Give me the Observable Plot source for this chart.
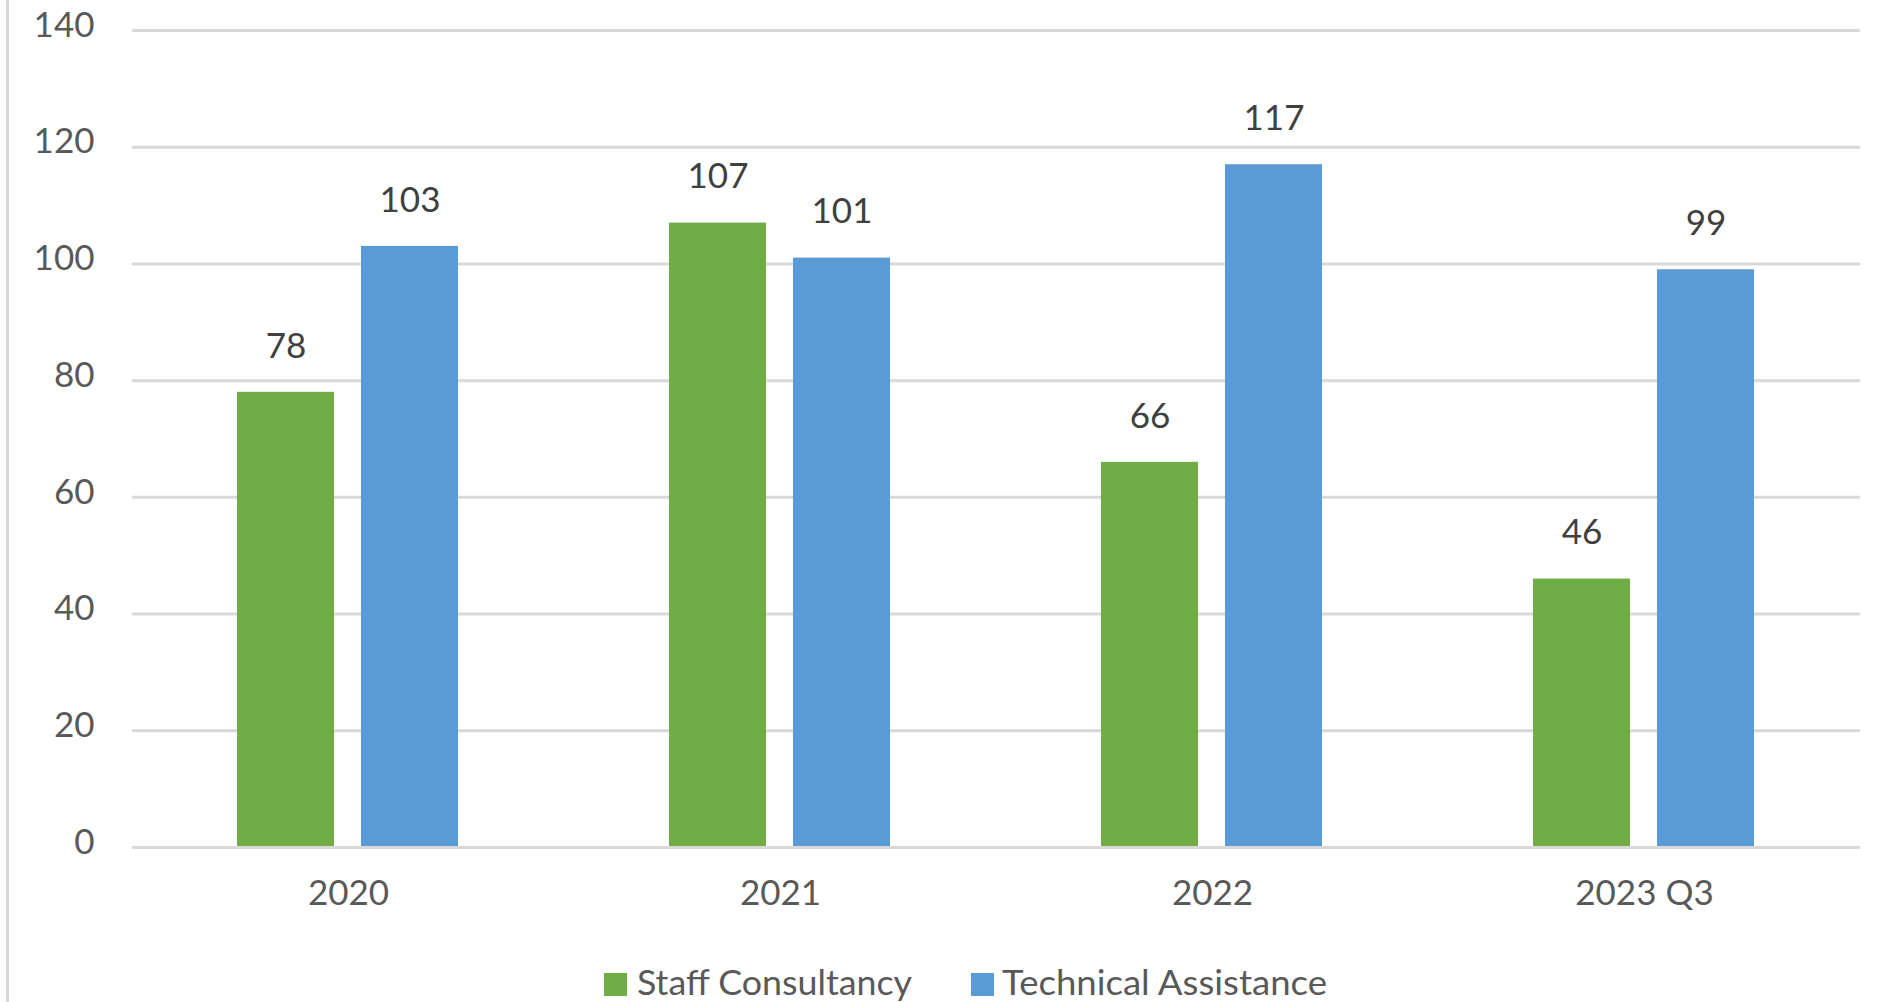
<!DOCTYPE html>
<html>
<head>
<meta charset="utf-8">
<script src="https://cdn.jsdelivr.net/npm/d3@7"></script>
<script src="https://cdn.jsdelivr.net/npm/@observablehq/plot@0.6"></script>
<style>
  html, body { margin: 0; padding: 0; background: #fff; }
  #wrap { position: relative; width: 1898px; height: 1002px; overflow: hidden; font-family: Lato, sans-serif; }
  #border { position: absolute; left: 6px; top: 0; width: 3px; height: 1002px; background: #d9d9d9; }
  #chart { position: absolute; left: 0; top: 0; }
  .sw { position: absolute; width: 23px; height: 23px; }
  .lt { position: absolute; font-size: 35px; color: #595959; white-space: nowrap; transform-origin: 0 0; line-height: 1; }
</style>
</head>
<body>
<div id="wrap">
  <div id="border"></div>
  <div id="chart"></div>
  <div id="legend"></div>
</div>
<script>
const categories = ["2020", "2021", "2022", "2023 Q3"];
const seriesNames = ["Staff Consultancy", "Technical Assistance"];
const staffConsultancy = [78, 107, 66, 46];
const technicalAssistance = [103, 101, 117, 99];
const yTicks = [0, 20, 40, 60, 80, 100, 120, 140];
const colors = ["#70ad47", "#5b9bd5"];

const data = [];
categories.forEach((c, i) => {
  data.push({year: c, series: seriesNames[0], value: staffConsultancy[i]});
  data.push({year: c, series: seriesNames[1], value: technicalAssistance[i]});
});

const chart = Plot.plot({
  width: 1898,
  height: 940,
  marginTop: 30,
  marginBottom: 93,
  marginLeft: 131,
  marginRight: 37,
  style: {fontFamily: "Lato, sans-serif", fontSize: "35px", color: "#595959", background: "transparent"},
  fx: {domain: categories, padding: 0, label: null},
  x: {domain: seriesNames, paddingInner: 0.216, paddingOuter: 0.838, axis: null},
  y: {domain: [0, 140], label: null},
  color: {domain: seriesNames, range: colors},
  marks: [
    Plot.ruleY(yTicks.filter(t => t > 0), {stroke: "#d9d9d9", strokeWidth: 3}),
    Plot.barY(data, {fx: "year", x: "series", y: "value", fill: "series"}),
    Plot.ruleY([0], {stroke: "#d9d9d9", strokeWidth: 3}),
    Plot.text(data, {fx: "year", x: "series", y: "value", text: d => String(d.value), dy: -46, fill: "#404040", fontSize: 35}),
    Plot.axisY({ticks: yTicks, tickSize: 0, tickPadding: 38, dy: -5, label: null, fontSize: 35}),
    Plot.axisFx({anchor: "bottom", tickSize: 0, tickPadding: 33, label: null, fontSize: 35})
  ]
});
document.getElementById("chart").appendChild(chart);

// legend
const legend = document.getElementById("legend");
const items = [
  {name: seriesNames[0], color: colors[0], sx: 604, tx: 637, tw: 275},
  {name: seriesNames[1], color: colors[1], sx: 971, tx: 1002, tw: 325}
];
items.forEach(it => {
  const sw = document.createElement("div");
  sw.className = "sw";
  sw.style.left = it.sx + "px";
  sw.style.top = "973px";
  sw.style.background = it.color;
  legend.appendChild(sw);
  const t = document.createElement("div");
  t.className = "lt";
  t.textContent = it.name;
  t.style.left = it.tx + "px";
  t.style.top = "964px";
  legend.appendChild(t);
  const w = t.getBoundingClientRect().width;
  t.style.transform = `scaleX(${it.tw / w})`;
});
</script>
</body>
</html>
